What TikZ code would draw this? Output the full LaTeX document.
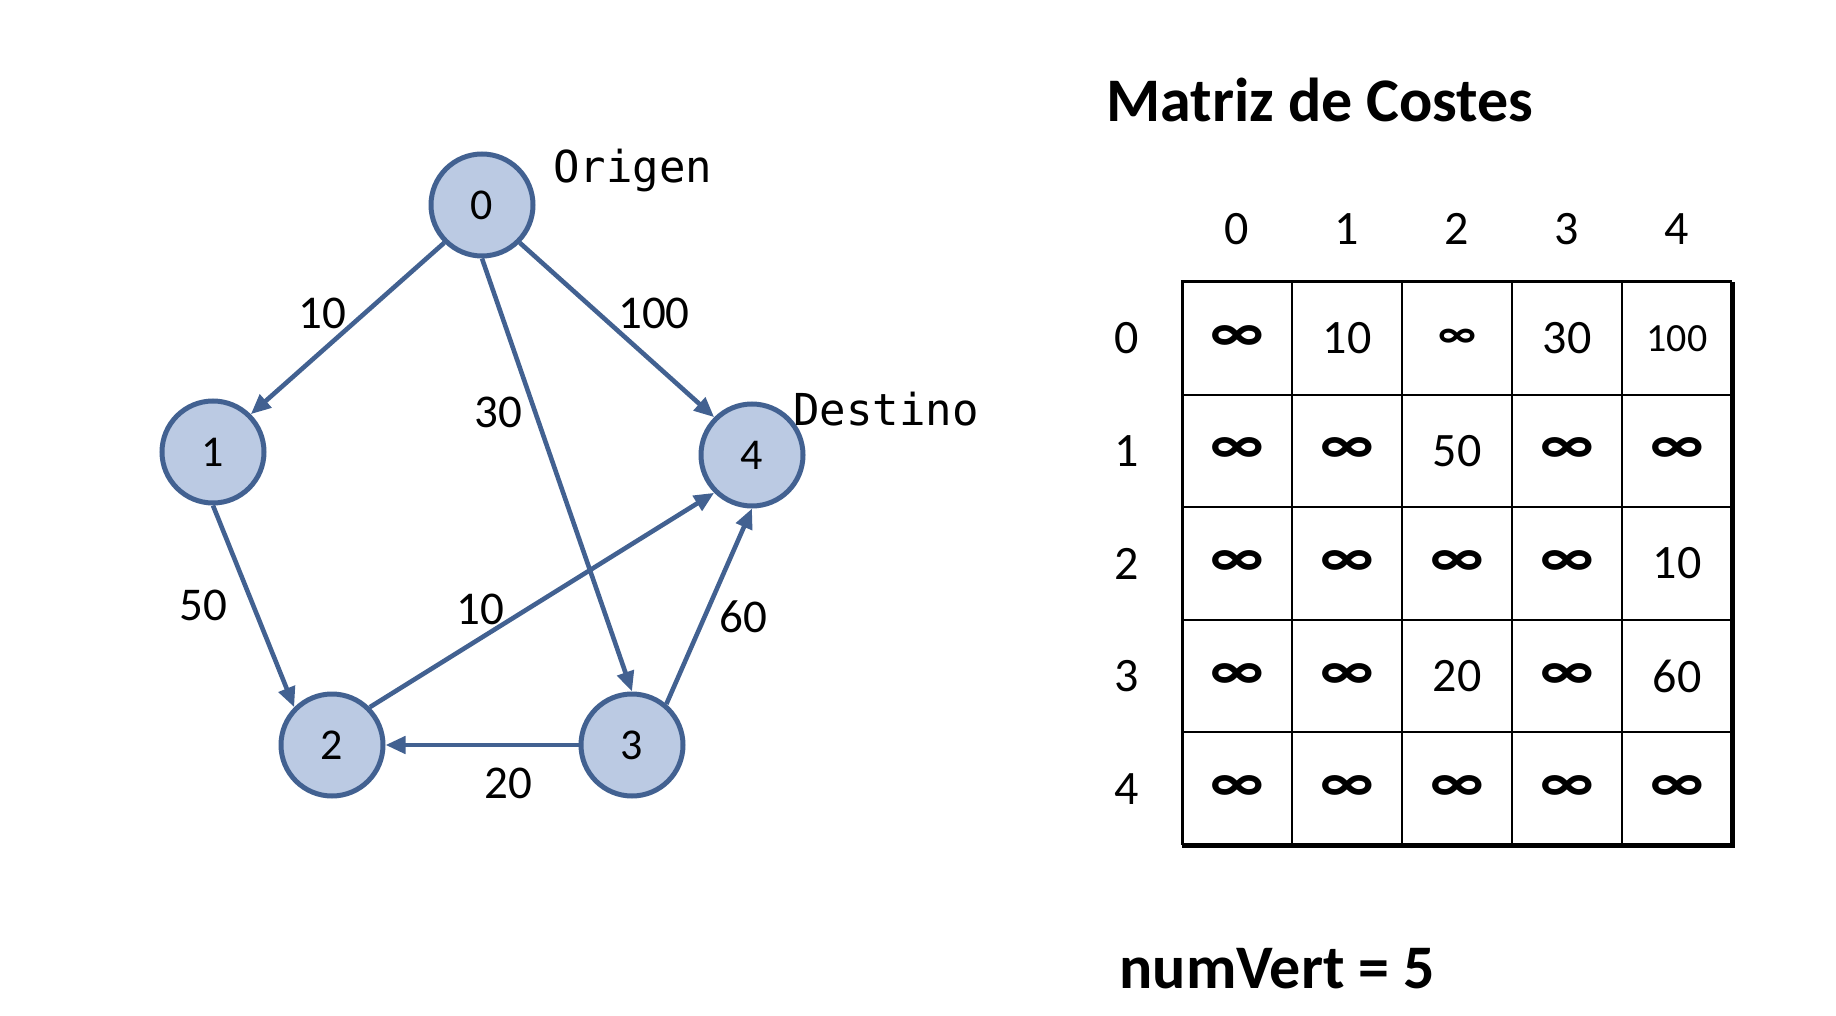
\documentclass[tikz,border=0pt]{standalone}
\usepackage{amsmath}
\usepackage{fontspec}
\setmainfont{Carlito}
\newfontfamily\monofont{DejaVu Sans Mono}
\usetikzlibrary{arrows.meta}
\definecolor{nodefill}{RGB}{187,202,227}
\definecolor{nodeline}{RGB}{66,97,145}
\newcommand{\vertex}[4]{\node[vert](#1) at (#3,#4) {#2};}
\newcommand{\celda}[3]{\node[cell](c#1#2) at (1237+110*#2,338.3+112.6*#1) {#3};}
\newcommand{\infi}{\scalebox{1.33}[1.2]{\textbf{∞}}}

\begin{document}
\begin{tikzpicture}[x=0.5pt,y=-0.5pt,
	vert/.style={circle,draw=nodeline,fill=nodefill,line width=2.5pt,minimum size=51pt,inner sep=0pt,font=\fontsize{22}{26}\selectfont},
	edge/.style={draw=nodeline,line width=2.3pt,arrows={-Triangle[length=10pt,width=8.5pt]}},
	cost/.style={font=\fontsize{23.5}{28}\selectfont},
	cell/.style={font=\fontsize{24}{28}\selectfont},
	tag/.style={anchor=base west,inner sep=0pt,font=\monofont\fontsize{22}{26}\selectfont}]
	\useasboundingbox (0,0) rectangle (1836,1016);

	\vertex{v0}{0}{482}{205}
	\vertex{v1}{1}{213}{452}
	\vertex{v2}{2}{332}{745}
	\vertex{v3}{3}{632}{745}
	\vertex{v4}{4}{752}{455}
	\node[tag](origen) at (553,183) {Origen};
	\node[tag](destino) at (793,425) {Destino};

	\draw[edge] (v0.south west) -- (v1.north east);
	\draw[edge] (v0.south) -- (v3.north);
	\draw[edge] (v0.south east) -- (v4.north west);
	\draw[edge] (v1.south) -- (v2.north west);
	\draw[edge] (v2.north east) -- (v4.south west);
	\draw[edge] (v3.west) -- (v2.east);
	\draw[edge] (v3.50) -- (v4.south);

	\node[cost](w01) at (322,313) {10};
	\node[cost](w04) at (654,313) {100};
	\node[cost](w03) at (498,412) {30};
	\node[cost](w12) at (203,605) {50};
	\node[cost](w24) at (480,609) {10};
	\node[cost](w34) at (743,617) {60};
	\node[cost](w32) at (508,783) {20};

	\node[anchor=base west,inner sep=0pt,font=\bfseries\fontsize{31}{36}\selectfont](titulo) at (1106,122) {Matriz de Costes};
	\foreach \i in {0,...,4} {
		\node[cell](col\i) at (1237+110*\i,229) {\i};
		\node[cell](fila\i) at (1127,338.3+112.6*\i) {\i};
	}

	\foreach \i in {1,...,4} {
		\draw[line width=1pt] (1182+110*\i,282) -- (1182+110*\i,845);
		\draw[line width=1pt] (1182,282+112.6*\i) -- (1732,282+112.6*\i);
	}
	\draw[line width=1.5pt] (1732,282) -- (1182,282) -- (1182,845);
	\draw[line width=2.5pt] (1182,845) -- (1732,845) -- (1732,282);

	\celda{0}{0}{\infi}\celda{0}{1}{10}\celda{0}{2}{\fontsize{17}{20}\selectfont\infi}\celda{0}{3}{30}\celda{0}{4}{\fontsize{20}{24}\selectfont 100}
	\celda{1}{0}{\infi}\celda{1}{1}{\infi}\celda{1}{2}{50}\celda{1}{3}{\infi}\celda{1}{4}{\infi}
	\celda{2}{0}{\infi}\celda{2}{1}{\infi}\celda{2}{2}{\infi}\celda{2}{3}{\infi}\celda{2}{4}{10}
	\celda{3}{0}{\infi}\celda{3}{1}{\infi}\celda{3}{2}{20}\celda{3}{3}{\infi}\celda{3}{4}{60}
	\celda{4}{0}{\infi}\celda{4}{1}{\infi}\celda{4}{2}{\infi}\celda{4}{3}{\infi}\celda{4}{4}{\infi}

	\node[anchor=base west,inner sep=0pt,font=\bfseries\fontsize{31}{36}\selectfont](numvert) at (1119,988) {numVert = 5};
\end{tikzpicture}
\end{document}
